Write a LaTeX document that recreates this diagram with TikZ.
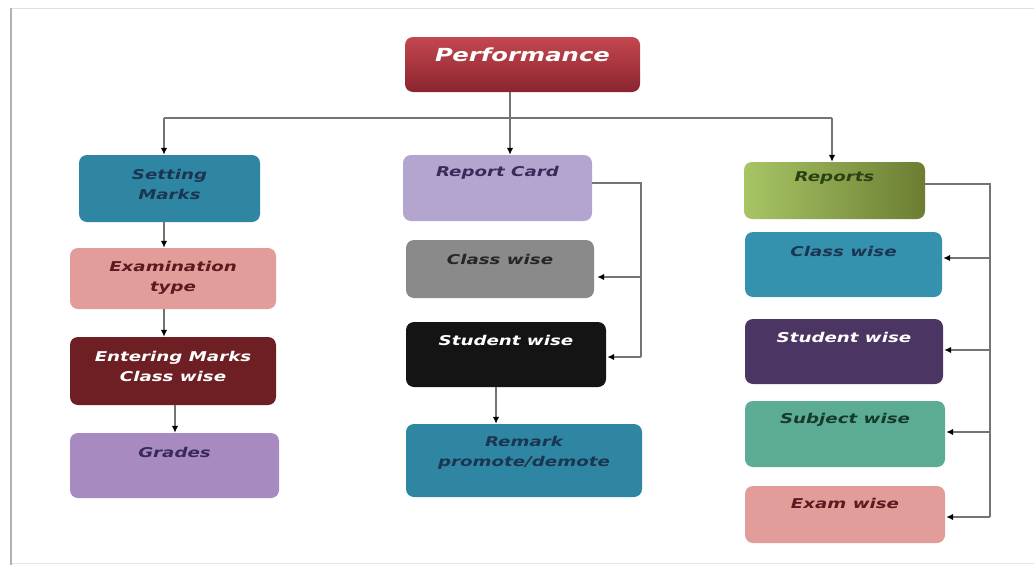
\documentclass[tikz,border=0pt]{standalone}
\usepackage{fontspec}
\newfontfamily\bxfont{DejaVu Sans}[FakeStretch=1.35]
\usetikzlibrary{arrows.meta,calc}
\definecolor{perfA}{HTML}{C4474F}
\definecolor{perfB}{HTML}{8A2430}
\definecolor{tealbox}{HTML}{2F86A2}
\definecolor{tealbox2}{HTML}{3592AE}
\definecolor{pinkbox}{HTML}{E29C9A}
\definecolor{maroonbox}{HTML}{6E1F23}
\definecolor{purplebox}{HTML}{A78AC0}
\definecolor{lilacbox}{HTML}{B4A5D0}
\definecolor{graybox}{HTML}{8A8A8A}
\definecolor{darkpurple}{HTML}{4A3563}
\definecolor{greenbox}{HTML}{5CAB95}
\definecolor{repA}{HTML}{A7C565}
\definecolor{repB}{HTML}{6C7D33}
\definecolor{navytxt}{HTML}{1B3552}
\definecolor{maroontxt}{HTML}{5A1A1E}
\definecolor{purpletxt}{HTML}{3A2A5C}
\definecolor{greentxt}{HTML}{2A4212}
\definecolor{dgreentxt}{HTML}{17392C}
\definecolor{lngray}{HTML}{747474}
\newcommand\bx[9]{%
  \node[box, #6, minimum width={(#4-#2)*1pt}, minimum height={(#5-#3)*1pt}] (#1) at ({(#2+#4)/2},{(#3+#5)/2}) {};
  \node[txt, text=#7] (#1-t) at ({(#2+#4)/2},#8) {#9};}
\begin{document}
\begin{tikzpicture}[x=1pt,y=-1pt,
  box/.style={rounded corners=8pt, inner sep=0pt, draw=none},
  txt/.style={font=\bxfont\bfseries\itshape\fontsize{13.5}{20}\selectfont, align=center, inner sep=0pt},
  ln/.style={draw=lngray, line width=1.3pt},
  arr/.style={ln, -{Latex[length=7pt,width=6.5pt,black]}}]
\useasboundingbox (0,0) rectangle (1034,565);
\fill[white] (0,0) rectangle (1034,565);
% frame
\draw[black!12, line width=1pt] (11,8) -- (1034,8);
\draw[black!10, line width=1pt] (11,563) -- (1034,563);
\draw[black!30, line width=1.6pt] (11,8) -- (11,565);
% boxes
\bx{perf}{405}{37}{640}{92}{top color=perfA,bottom color=perfB}{white}{55}{\fontsize{18}{22}\selectfont Performance}
\bx{set}{79}{155}{260}{222}{fill=tealbox}{navytxt}{184}{Setting\\Marks}
\bx{exam}{70}{248}{276}{309}{fill=pinkbox}{maroontxt}{277.5}{Examination\\type}
\bx{ent}{70}{337}{276}{405}{fill=maroonbox}{white}{366.5}{Entering Marks\\Class wise}
\bx{grades}{70}{433}{279}{498}{fill=purplebox}{purpletxt}{452}{Grades}
\bx{rc}{403}{155}{592}{221}{fill=lilacbox}{purpletxt}{173}{Report Card}
\bx{cwg}{406}{240}{594}{298}{fill=graybox}{black!85}{259}{Class wise}
\bx{swb}{406}{322}{606}{387}{fill=black!92}{white}{340}{Student wise}
\bx{rem}{406}{424}{642}{497}{fill=tealbox}{navytxt}{452.5}{Remark\\promote/demote}
\bx{rep}{744}{162}{925}{219}{left color=repA,right color=repB}{greentxt}{178}{Reports}
\bx{cwt}{745}{232}{942}{297}{fill=tealbox2}{navytxt}{251}{Class wise}
\bx{swp}{745}{319}{943}{384}{fill=darkpurple}{white}{337}{Student wise}
\bx{subj}{745}{401}{945}{467}{fill=greenbox}{dgreentxt}{420}{Subject wise}
\bx{exw}{745}{486}{945}{543}{fill=pinkbox}{maroontxt}{503}{Exam wise}
% top distribution
\coordinate (hl) at (164,118);
\coordinate (hm) at (510,118);
\coordinate (hr) at (832,118);
\draw[ln] (perf.south -| hm) -- (hm);
\draw[ln] (hl) -- (hr);
\draw[arr] (hl) -- (set.north -| hl);
\draw[arr] (hm) -- (rc.north -| hm);
\draw[arr] (hr) -- (rep.north -| hr);
% left column
\draw[arr] (set.south -| hl) -- (exam.north -| hl);
\draw[arr] (exam.south -| hl) -- (ent.north -| hl);
\coordinate (gx) at (175,0);
\draw[arr] (ent.south -| gx) -- (grades.north -| gx);
% middle column
\coordinate (mb) at (641,357);
\coordinate (m1) at (641,277);
\draw[ln] ([yshift=5pt]rc.east) -| (mb);
\draw[arr] (m1) -- ([xshift=3pt]m1 -| cwg.east);
\draw[arr] (mb) -- ([xshift=1pt]mb -| swb.east);
\coordinate (sx) at (496,0);
\draw[arr] (swb.south -| sx) -- (rem.north -| sx);
% right column
\coordinate (rb) at (990,517);
\coordinate (r1) at (990,258);
\coordinate (r2) at (990,350);
\coordinate (r3) at (990,432);
\draw[ln] ([yshift=6.5pt]rep.east) -| (rb);
\draw[arr] (r1) -- ([xshift=1pt]r1 -| cwt.east);
\draw[arr] (r2) -- ([xshift=1pt]r2 -| swp.east);
\draw[arr] (r3) -- ([xshift=1pt]r3 -| subj.east);
\draw[arr] (rb) -- ([xshift=1pt]rb -| exw.east);
\end{tikzpicture}
\end{document}
